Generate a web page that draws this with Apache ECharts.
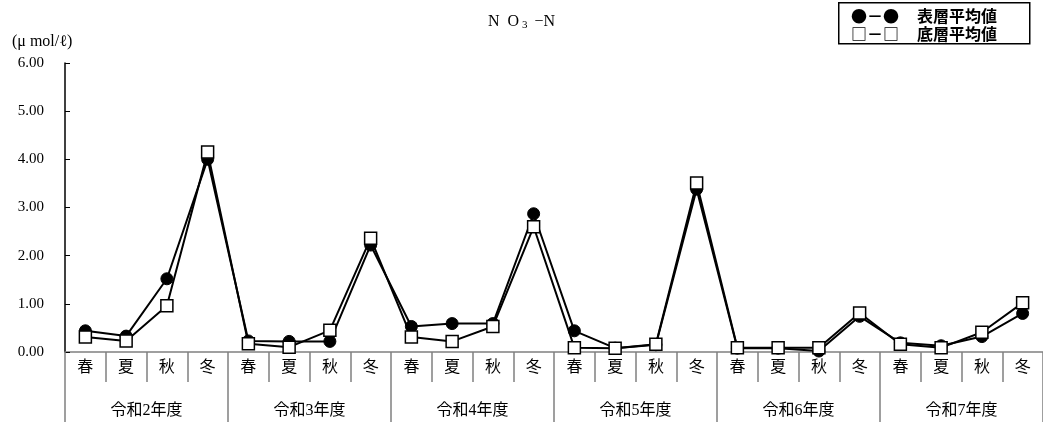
<!DOCTYPE html>
<html>
<head>
<meta charset="utf-8">
<script src="https://cdn.jsdelivr.net/npm/echarts@6/dist/echarts.min.js"></script>
<style>html,body{margin:0;padding:0;background:#fff}#c{width:1043px;height:423px}</style>
</head>
<body>
<div id="c"></div>
<script>
const seasons = ['春','夏','秋','冬'];
const years = ['令和2年度','令和3年度','令和4年度','令和5年度','令和6年度','令和7年度'];
const categories = [];
years.forEach(function(y){ seasons.forEach(function(s){ categories.push(s); }); });
const surfaceValues = [0.44,0.33,1.52,4.00, 0.23,0.22,0.22,2.22, 0.53,0.59,0.59,2.87, 0.44,0.08,0.15,3.38, 0.08,0.08,0.02,0.74, 0.19,0.13,0.32,0.80];
const bottomValues  = [0.31,0.23,0.96,4.15, 0.17,0.10,0.45,2.36, 0.31,0.22,0.53,2.60, 0.09,0.08,0.16,3.51, 0.09,0.09,0.09,0.81, 0.16,0.09,0.41,1.02];
const yTicks = [0,1,2,3,4,5,6];

const serif = "'Liberation Serif','Noto Sans CJK JP',serif";
const legendFont = "bold 16px 'Noto Sans CJK JP',sans-serif";
const chart = echarts.init(document.getElementById('c'), null, {renderer:'canvas'});
chart.setOption({
  animation:false,
  backgroundColor:'#fff',
  title:{
    text:'{a|N  O}{s|3}{a| −N}',
    left:'center', top:7,
    textStyle:{rich:{
      a:{fontFamily:serif,fontSize:16,fontWeight:'normal',color:'#000'},
      s:{fontFamily:serif,fontSize:11,fontWeight:'normal',color:'#000',padding:[8,3,0,3]}
    }}
  },
  grid:{left:65,right:0,top:63,bottom:71,containLabel:false},
  xAxis:[{
    type:'category', data:categories, position:'bottom',
    boundaryGap:true,
    axisLine:{show:true,lineStyle:{color:'#808080',width:1.5}},
    axisTick:{show:true,interval:0,length:30,lineStyle:{color:'#808080',width:1.5}},
    axisLabel:{interval:0,margin:8,fontFamily:serif,fontSize:16,color:'#000'}
  },{
    type:'category', data:years, position:'bottom',
    boundaryGap:true,
    axisLine:{show:false},
    axisTick:{show:true,interval:0,length:70,lineStyle:{color:'#808080',width:1.5}},
    axisLabel:{interval:0,margin:51,fontFamily:serif,fontSize:16,color:'#000'}
  }],
  yAxis:{
    type:'value', min:yTicks[0], max:yTicks[yTicks.length-1], interval:1,
    axisLine:{show:true,lineStyle:{color:'#000',width:1.5}},
    axisTick:{show:true,inside:true,length:5,lineStyle:{color:'#000'}},
    splitLine:{show:false},
    axisLabel:{margin:21,fontFamily:serif,fontSize:15,color:'#000',formatter:function(v){return v.toFixed(2);}}
  },
  series:[{
    name:'表層平均値', type:'line', data:surfaceValues, xAxisIndex:0,
    symbol:'circle', symbolSize:12,
    lineStyle:{color:'#000',width:2},
    itemStyle:{color:'#000',borderColor:'#000',borderWidth:1},
    z:2
  },{
    name:'底層平均値', type:'line', data:bottomValues, xAxisIndex:0,
    symbol:'rect', symbolSize:12,
    lineStyle:{color:'#000',width:2},
    itemStyle:{color:'#fff',borderColor:'#000',borderWidth:1.5},
    z:3
  }],
  graphic:[
    {type:'text',left:12,top:34,style:{text:'(μ mol/ℓ)',font:"16px 'Liberation Serif','Noto Sans CJK JP',serif",fill:'#000'}},
    {type:'rect',left:838,top:2,shape:{width:191,height:41},style:{fill:'#fff',stroke:'#000',lineWidth:1.5}},
    {type:'text',x:851,y:16,style:{text:'●－●',font:legendFont,fill:'#000',verticalAlign:'middle'}},
    {type:'text',x:917,y:16,style:{text:'表層平均値',font:legendFont,fill:'#000',verticalAlign:'middle'}},
    {type:'text',x:851,y:34,style:{text:'□－□',font:legendFont,fill:'#000',verticalAlign:'middle'}},
    {type:'text',x:917,y:34,style:{text:'底層平均値',font:legendFont,fill:'#000',verticalAlign:'middle'}}
  ]
});
</script>
</body>
</html>
